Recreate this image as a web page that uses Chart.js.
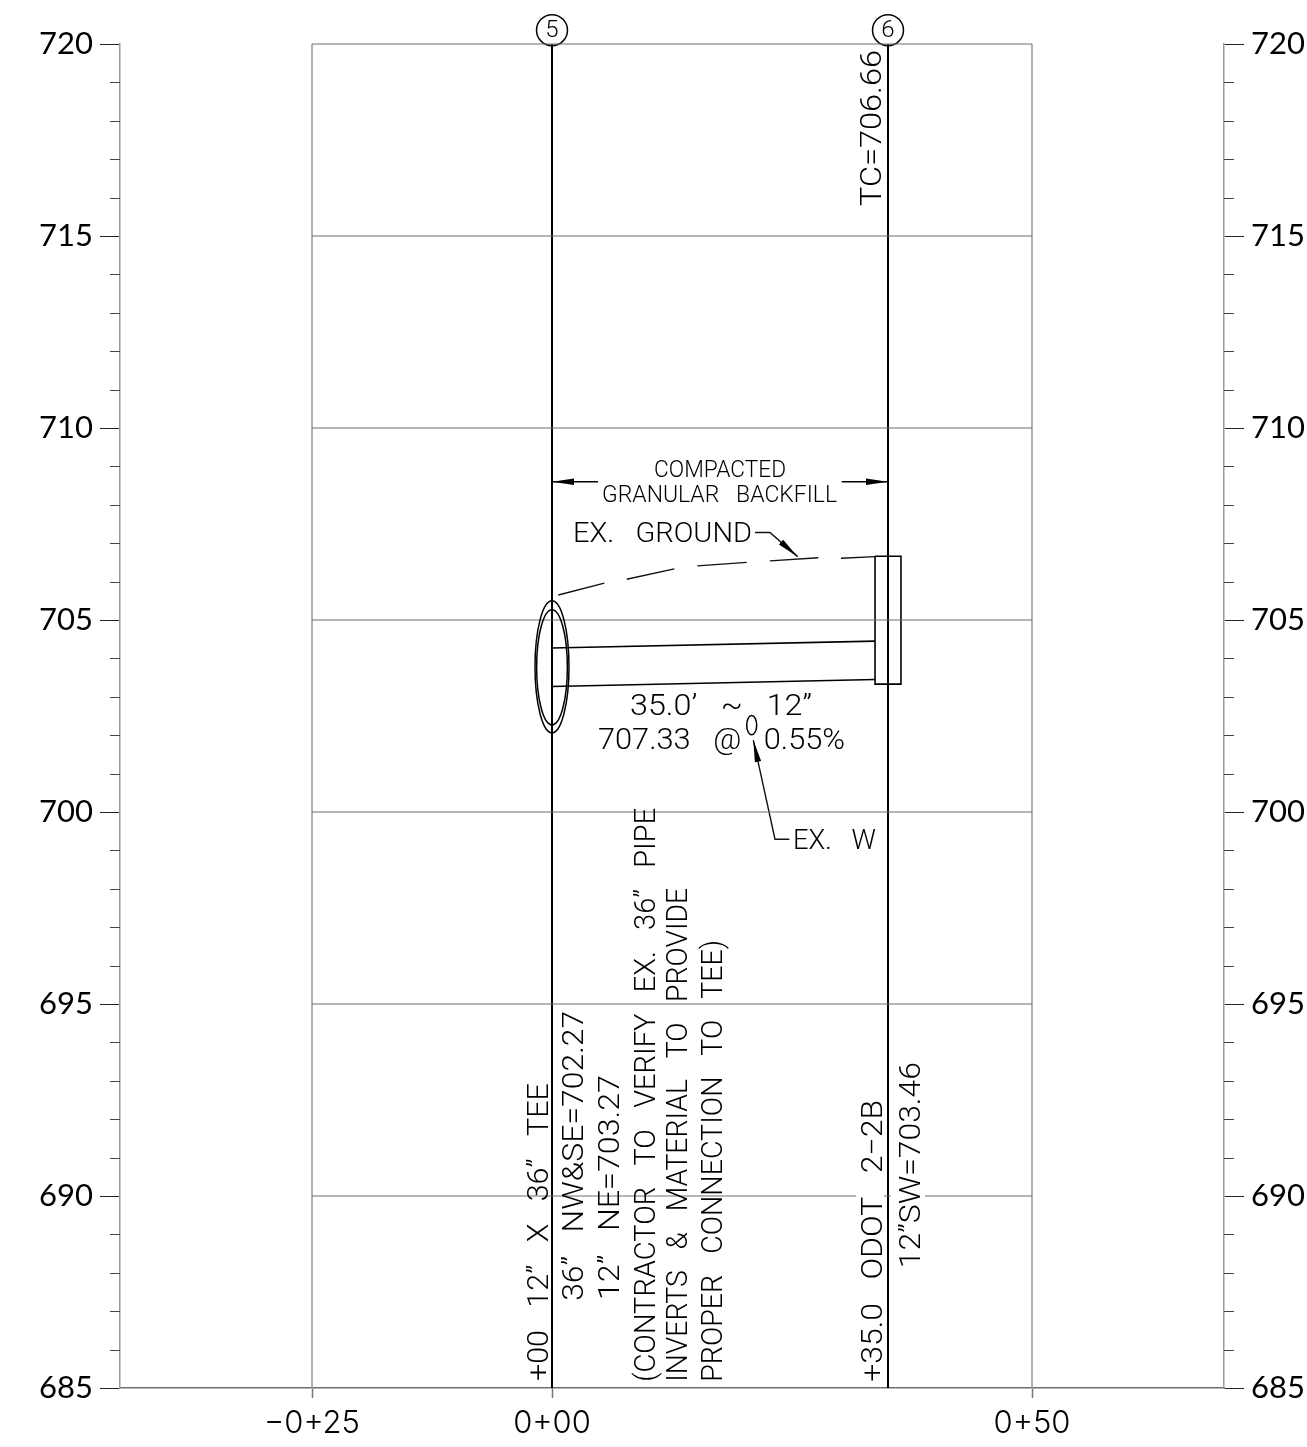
<!DOCTYPE html>
<html>
<head>
<meta charset="utf-8">
<title>Profile 0+00 to 0+35</title>
<script src="https://cdn.jsdelivr.net/npm/chart.js@4"></script>
<style>
  html, body { margin: 0; background: #fff; }
  canvas { display: block; }
</style>
</head>
<body>
<canvas id="profile" width="1307" height="1447"></canvas>
<script>
const elevTicks = [685, 690, 695, 700, 705, 710, 715, 720];
const elevMinor = [686, 687, 688, 689, 691, 692, 693, 694, 696, 697, 698, 699, 701, 702, 703, 704,
                   706, 707, 708, 709, 711, 712, 713, 714, 716, 717, 718, 719];
const stationTicks = [-25, 0, 50];
const stationLabels = ['\u22120+25', '0+00', '0+50'];

const gridLines = [695, 700, 705, 710, 715, 720];
const grid690X = [-25, 31.67, null, 34.58, 35.3, null, 38.85, 50];
const structures = [0, 35];
const structureNames = ['5', '6'];

const crownX = [0, 33.65];
const crownY = [704.27, 704.45];
const invertX = [0, 33.65];
const invertY = [703.27, 703.45];
const boxX = [33.65, 36.35, 36.35, 33.65, 33.65];
const boxY = [706.66, 706.66, 703.33, 703.33, 706.66];
const groundX = [0.66, 5.45, null, 7.78, 12.74, null, 15.14, 20.28, null, 22.7, 27.74, null, 30.1, 33.65];
const groundY = [705.65, 705.96, null, 706.06, 706.33, null, 706.41, 706.5, null, 706.54, 706.62, null, 706.61, 706.65];
const dimX = [0, 4.79, null, 30.18, 35];
const dimY = [708.6, 708.6, null, 708.6, 708.6];
const groundLeaderX = [21.15, 22.7, 25.59];
const groundLeaderY = [707.28, 707.28, 706.65];
const waterLeaderX = [24.72, 23.23, 20.97];
const waterLeaderY = [699.29, 699.29, 701.87];

// station, elevation, radius in feet across, radius in feet up
const ellipses = [
  [0, 703.78, 1.77, 1.72],
  [0, 703.77, 1.6, 1.5],
  [20.8, 702.26, 0.52, 0.25]
];
// tip station, tip elevation, tail station, tail elevation
const arrows = [
  [0, 708.6, 4.79, 708.6],
  [35, 708.6, 30.18, 708.6],
  [25.59, 706.65, 22.7, 707.28],
  [20.97, 701.87, 23.23, 699.29]
];

const noteTexts = [
  '+00   12\u201D   X   36\u201D   TEE',
  '36\u201D   NW&SE=702.27',
  '12\u201D   NE=703.27',
  '(CONTRACTOR   TO   VERIFY   EX.   36\u201D   PIPE',
  'INVERTS   &   MATERIAL   TO   PROVIDE',
  'PROPER   CONNECTION   TO   TEE)',
  '+35.0   ODOT   2\u22122B',
  '12\u201DSW=703.46',
  'TC=706.66',
  'COMPACTED',
  'GRANULAR   BACKFILL',
  'EX.   GROUND',
  '35.0\u2019   ~   12\u201D',
  '707.33   @   0.55%',
  'EX.   W'
];
// station, elevation, vertical?, font size, drawn length in px
const notePlaces = [
  [-0.42, 685.18, true, 29, 298],
  [3.23, 687.27, true, 29, 290],
  [6.98, 687.29, true, 29, 225],
  [10.73, 685.16, true, 29, 574],
  [14.06, 685.16, true, 29, 494],
  [17.71, 685.16, true, 29, 442],
  [34.38, 685.16, true, 29, 282],
  [38.33, 688.12, true, 29, 206],
  [34.27, 715.78, true, 29, 156],
  [10.63, 708.72, false, 24, 132],
  [5.21, 708.07, false, 24, 235],
  [2.19, 707.03, false, 28, 179],
  [8.13, 702.53, false, 29, 182],
  [4.79, 701.64, false, 29, 247],
  [25.1, 699.04, false, 28, 83]
];

const textFont = 'Roboto, "Liberation Sans", sans-serif';
const elevFont = 'Lato, Roboto, sans-serif';
const stationFont = 'Inter, "DejaVu Sans", sans-serif';
const greyLine = '#6e6e6e';

function pairs(xs, ys) {
  return xs.map((x, i) => ({ x: x, y: x === null ? null : ys[i] }));
}
function line(xs, ys, color, width) {
  return {
    data: pairs(xs, ys), showLine: true, spanGaps: false, clip: false,
    borderColor: color, borderWidth: width, pointRadius: 0, tension: 0
  };
}

const datasets = [];
gridLines.forEach(e => datasets.push(line([-25, 50], [e, e], greyLine, 1)));
datasets.push(line(grid690X, grid690X.map(x => x === null ? null : 690), greyLine, 1));
datasets.push(line([-25, -25], [685, 720], '#9a9a9a', 1.5));
datasets.push(line([50, 50], [685, 720], '#9a9a9a', 1.5));
structures.forEach(s => datasets.push(line([s, s], [685, 720], '#000', 2)));
datasets.push(line(crownX, crownY, '#000', 1.6));
datasets.push(line(invertX, invertY, '#000', 1.6));
datasets.push(line(boxX, boxY, '#000', 1.6));
datasets.push(line(groundX, groundY, '#111', 1.4));
datasets.push(line(dimX, dimY, '#000', 1.3));
datasets.push(line(groundLeaderX, groundLeaderY, '#111', 1.4));
datasets.push(line(waterLeaderX, waterLeaderY, '#111', 1.4));
datasets.push({
  data: structures.map(s => ({ x: s, y: 720.36 })), showLine: false, clip: false,
  pointStyle: 'circle', pointRadius: 15.5, pointBorderWidth: 1.5,
  pointBorderColor: '#000', pointBackgroundColor: 'rgba(0,0,0,0)'
});

const drawing = {
  id: 'drawing',
  afterDatasetsDraw(chart) {
    const ctx = chart.ctx;
    const x = chart.scales.x, y = chart.scales.y;
    ctx.save();

    // minor elevation ticks on both side axes
    ctx.strokeStyle = '#444';
    ctx.lineWidth = 1;
    elevMinor.forEach(e => {
      const p = Math.round(y.getPixelForValue(e)) + 0.5;
      ctx.beginPath();
      ctx.moveTo(x.left - 10, p); ctx.lineTo(x.left, p);
      ctx.moveTo(x.right, p); ctx.lineTo(x.right + 10, p);
      ctx.stroke();
    });

    ctx.strokeStyle = '#000';
    ctx.lineWidth = 1.5;
    ellipses.forEach(el => {
      ctx.beginPath();
      ctx.ellipse(x.getPixelForValue(el[0]), y.getPixelForValue(el[1]),
        x.getPixelForValue(el[2]) - x.getPixelForValue(0),
        y.getPixelForValue(720 - el[3]) - y.getPixelForValue(720), 0, 0, Math.PI * 2);
      ctx.stroke();
    });

    ctx.fillStyle = '#000';
    arrows.forEach(a => {
      const tx = x.getPixelForValue(a[0]), ty = y.getPixelForValue(a[1]);
      const ang = Math.atan2(y.getPixelForValue(a[3]) - ty, x.getPixelForValue(a[2]) - tx);
      ctx.save();
      ctx.translate(tx, ty);
      ctx.rotate(ang);
      ctx.beginPath();
      ctx.moveTo(0, 0); ctx.lineTo(22, -3.2); ctx.lineTo(22, 3.2);
      ctx.closePath();
      ctx.fill();
      ctx.restore();
    });

    ctx.fillStyle = '#000';
    ctx.textBaseline = 'alphabetic';
    ctx.textAlign = 'left';
    noteTexts.forEach((t, i) => {
      const pl = notePlaces[i];
      ctx.save();
      ctx.font = '300 ' + pl[3] + 'px ' + textFont;
      ctx.translate(x.getPixelForValue(pl[0]), y.getPixelForValue(pl[1]));
      if (pl[2]) ctx.rotate(-Math.PI / 2);
      ctx.scale(pl[4] / ctx.measureText(t).width, 1);
      ctx.fillText(t, 0, 0);
      ctx.restore();
    });

    ctx.font = '300 24px ' + textFont;
    ctx.textAlign = 'center';
    ctx.textBaseline = 'middle';
    structureNames.forEach((n, i) => {
      ctx.fillText(n, x.getPixelForValue(structures[i]), y.getPixelForValue(720.36) + 1);
    });
    ctx.restore();
  }
};

function sideAxis(pos, width) {
  return {
    type: 'linear', position: pos, min: 685, max: 720,
    afterBuildTicks: s => { s.ticks = elevTicks.map(v => ({ value: v })); },
    afterFit: s => { s.width = width; },
    border: { color: '#9a9a9a', width: 1.5 },
    grid: { drawOnChartArea: false, tickLength: 20, tickColor: '#222', tickWidth: 1 },
    ticks: {
      padding: 7, color: '#000',
      font: { family: elevFont, size: 31, weight: '400' }
    }
  };
}

new Chart(document.getElementById('profile'), {
  type: 'scatter',
  data: { datasets: datasets },
  plugins: [drawing],
  options: {
    responsive: false,
    animation: false,
    layout: { padding: { top: 44 } },
    plugins: { legend: { display: false }, tooltip: { enabled: false } },
    scales: {
      x: {
        type: 'linear', position: 'bottom', min: -45, max: 70,
        afterBuildTicks: s => { s.ticks = stationTicks.map(v => ({ value: v })); },
        afterFit: s => { s.height = 59; },
        border: { color: greyLine, width: 1.5 },
        grid: { drawOnChartArea: false, tickLength: 10, tickColor: '#777', tickWidth: 1.5 },
        ticks: {
          autoSkip: false, maxRotation: 0, padding: 7, color: '#000',
          font: { family: stationFont, size: 31, weight: '300' },
          callback: (v, i) => stationLabels[i]
        }
      },
      y: sideAxis('left', 120),
      y2: sideAxis('right', 83)
    }
  }
});
</script>
</body>
</html>
